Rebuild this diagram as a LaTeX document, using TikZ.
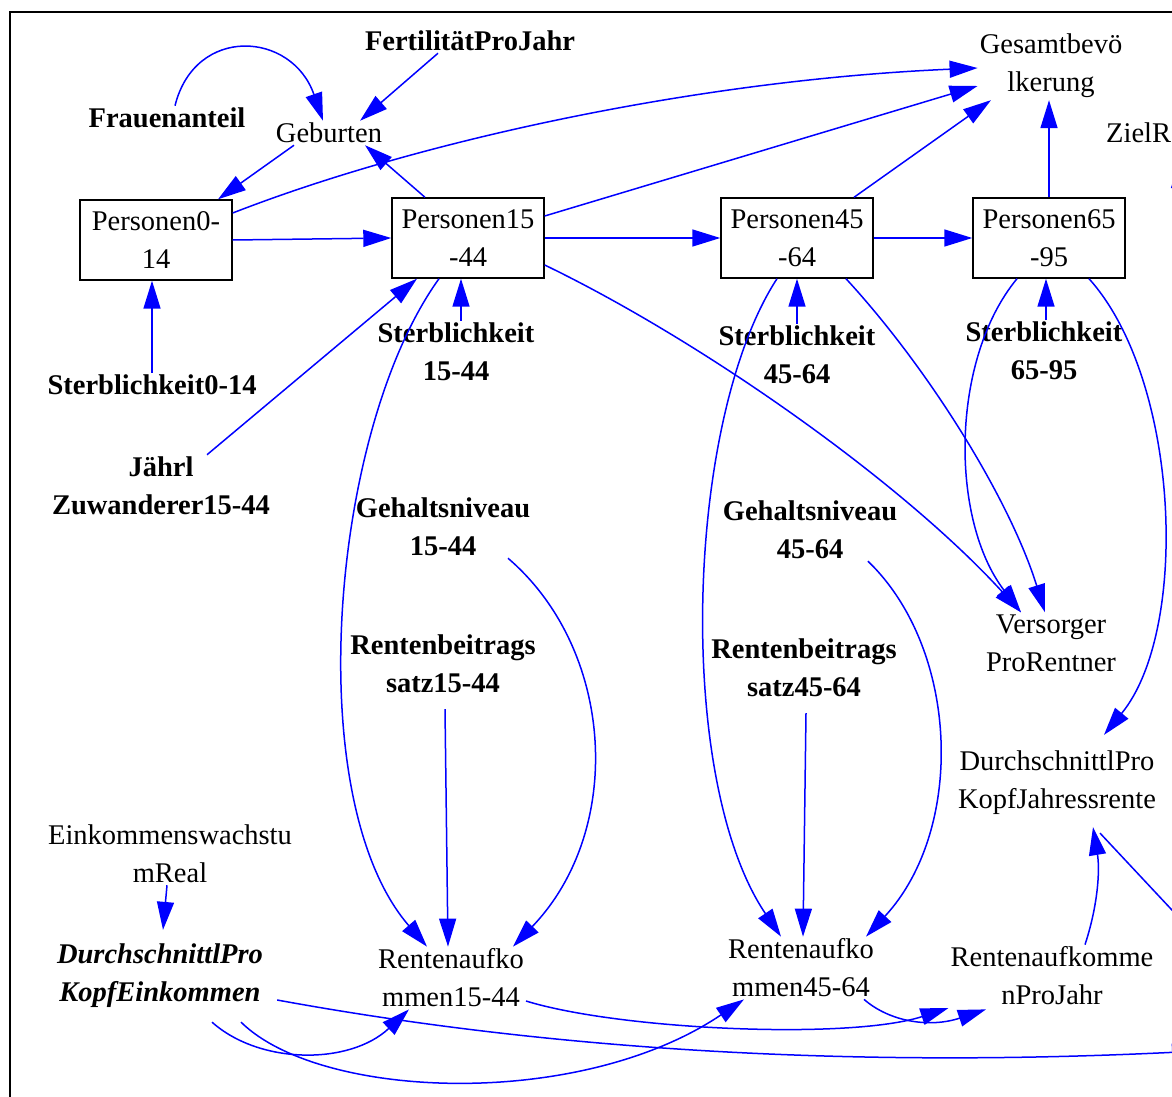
\documentclass[tikz,border=0pt]{standalone}
\usepackage{fontspec}
\setmainfont{Liberation Serif}
\usetikzlibrary{arrows.meta}

\begin{document}
\begin{tikzpicture}[x=1pt, y=-1pt,
  every node/.style={align=center, inner sep=2pt, font=\fontsize{28.5}{38}\selectfont},
  param/.style={font=\fontsize{28.5}{38}\selectfont\bfseries},
  stockbox/.style={draw, line width=1.4pt, minimum width=152pt, minimum height=80pt, inner sep=0pt},
  conn/.style={blue, line width=1.5pt, -{Triangle[length=28pt, width=17pt]}}]
  \useasboundingbox (0,0) rectangle (1172,1097);
  \clip (0,0) rectangle (1172,1097);
  \draw[line width=1.4pt] (10,1110) -- (10,12) -- (1185,12);

  % variables
  \node[param] (fert) at (470,41) {FertilitätProJahr};
  \node[param] (frau) at (167,118) {Frauenanteil};
  \node (geb) at (329,133) {Geburten};
  \node (ges) at (1051,66) {Gesamtbevö\\lkerung};
  \node[anchor=west] (ziel) at (1104,133) {ZielR};
  \node[stockbox] (p0) at (156,240) {Personen0-\\14};
  \node[stockbox] (p15) at (468,238) {Personen15\\-44};
  \node[stockbox] (p45) at (797,238) {Personen45\\-64};
  \node[stockbox] (p65) at (1049,238) {Personen65\\-95};
  \node[param] (st0) at (152,385) {Sterblichkeit0-14};
  \node[param] (st15) at (456,352) {Sterblichkeit\\15-44};
  \node[param] (st45) at (797,355) {Sterblichkeit\\45-64};
  \node[param] (st65) at (1044,351) {Sterblichkeit\\65-95};
  \node[param] (zuw) at (161,486) {Jährl\\Zuwanderer15-44};
  \node[param] (geh15) at (443,527) {Gehaltsniveau\\15-44};
  \node[param] (geh45) at (810,530) {Gehaltsniveau\\45-64};
  \node[param] (rb15) at (443,664) {Rentenbeitrags\\satz15-44};
  \node[param] (rb45) at (804,668) {Rentenbeitrags\\satz45-64};
  \node (vers) at (1051,643) {Versorger\\ProRentner};
  \node (dpkj) at (1057,783) {DurchschnittlPro\\KopfJahressrente};
  \node (ewr) at (170,854) {Einkommenswachstu\\mReal};
  \node[font=\fontsize{28.5}{38}\selectfont\bfseries\itshape] (dpke) at (160,976) {DurchschnittlPro\\KopfEinkommen};
  \node (r15) at (451,978) {Rentenaufko\\mmen15-44};
  \node (r45) at (801,968) {Rentenaufko\\mmen45-64};
  \node (rpj) at (1052,976) {Rentenaufkomme\\nProJahr};
  \coordinate (offr) at (1200,1051);
  \coordinate (offj) at (1200,940);
  \coordinate (offz) at (1179,300);

  % population
  \draw[conn] ([xshift=8pt]frau.north) .. controls (195,25) and (292,31) .. ([xshift=-6pt]geb.north);
  \draw[conn] ([xshift=-32pt]fert.south) -- ([xshift=31pt]geb.north);
  \draw[conn] ([xshift=-35pt]geb.south) -- ([xshift=62pt]p0.north);
  \draw[conn] ([xshift=-43pt]p15.north) -- ([xshift=36pt]geb.south);
  \draw[conn] ([yshift=27pt]p0.east) .. controls (420,140) and (700,80) .. ([yshift=-2pt]ges.west);
  \draw[conn] ([yshift=22pt]p15.east) -- ([yshift=-20pt]ges.west);
  \draw[conn] ([xshift=57pt]p45.north) -- ([xshift=-60pt]ges.south);
  \draw[conn] (p65.north) -- ([xshift=-2pt]ges.south);
  \foreach \a/\b in {p0/p15, p15/p45, p45/p65}
    \draw[conn] (\a.east) -- (\b.west);
  \draw[conn] (st0.north) -- ([xshift=-4pt]p0.south);
  \draw[conn] ([xshift=5pt]st15.north) -- ([xshift=-7pt]p15.south);
  \draw[conn] (st45.north) -- (p45.south);
  \draw[conn] ([xshift=2pt]st65.north) -- ([xshift=-3pt]p65.south);
  \draw[conn] ([xshift=46pt]zuw.north) -- ([xshift=-51pt]p15.south);
  \draw[conn] (offz) -- ([xshift=41pt,yshift=-15pt]ziel.south);

  % pensions
  \draw[conn] ([xshift=-29pt]p15.south) .. controls (330,430) and (300,800) .. ([xshift=-24pt]r15.north);
  \draw[conn] ([xshift=2pt,yshift=-14pt]rb15.south) -- ([xshift=-3pt]r15.north);
  \draw[conn] ([xshift=65pt]geh15.south) .. controls (615,650) and (625,830) .. ([xshift=62pt]r15.north);
  \draw[conn] ([yshift=-27pt]p15.east) .. controls (700,340) and (900,480) .. ([xshift=-30pt]vers.north);
  \draw[conn] ([xshift=-20pt]p45.south) .. controls (685,420) and (675,780) .. ([xshift=-20pt]r45.north);
  \draw[conn] ([xshift=2pt,yshift=-14pt]rb45.south) -- ([xshift=2pt]r45.north);
  \draw[conn] ([xshift=58pt]geh45.south) .. controls (960,650) and (965,830) .. ([xshift=65pt]r45.north);
  \draw[conn] ([xshift=49pt]p45.south) .. controls (930,370) and (1010,500) .. ([xshift=-6pt]vers.north);
  \draw[conn] ([xshift=-32pt]p65.south) .. controls (950,360) and (950,520) .. ([xshift=-30pt]vers.north);
  \draw[conn] ([xshift=40pt]p65.south) .. controls (1180,380) and (1190,630) .. ([xshift=47pt,yshift=14pt]dpkj.north);
  \draw[conn] ([xshift=-3pt]ewr.south) -- ([xshift=3pt,yshift=12pt]dpke.north);
  \draw[conn] ([xshift=52pt,yshift=-12pt]dpke.south) .. controls (260,1065) and (350,1065) .. ([xshift=-42pt]r15.south);
  \draw[conn] ([xshift=81pt,yshift=-12pt]dpke.south) .. controls (320,1100) and (580,1110) .. ([xshift=-57pt]r45.south);
  \draw[conn] ([xshift=12pt,yshift=-24pt]dpke.east) .. controls (550,1050) and (850,1068) .. (offr);
  \draw[conn] ([yshift=-23pt]r15.east) .. controls (620,1030) and (850,1040) .. ([yshift=-32pt]rpj.west);
  \draw[conn] ([xshift=63pt]r45.south) .. controls (890,1022) and (930,1028) .. ([xshift=-66pt,yshift=-2pt]rpj.south);
  \draw[conn] ([xshift=33pt]rpj.north) .. controls (1098,905) and (1100,870) .. ([xshift=36pt,yshift=-10pt]dpkj.south);
  \draw[conn] ([xshift=43pt,yshift=-16pt]dpkj.south) -- (offj);
\end{tikzpicture}
\end{document}
